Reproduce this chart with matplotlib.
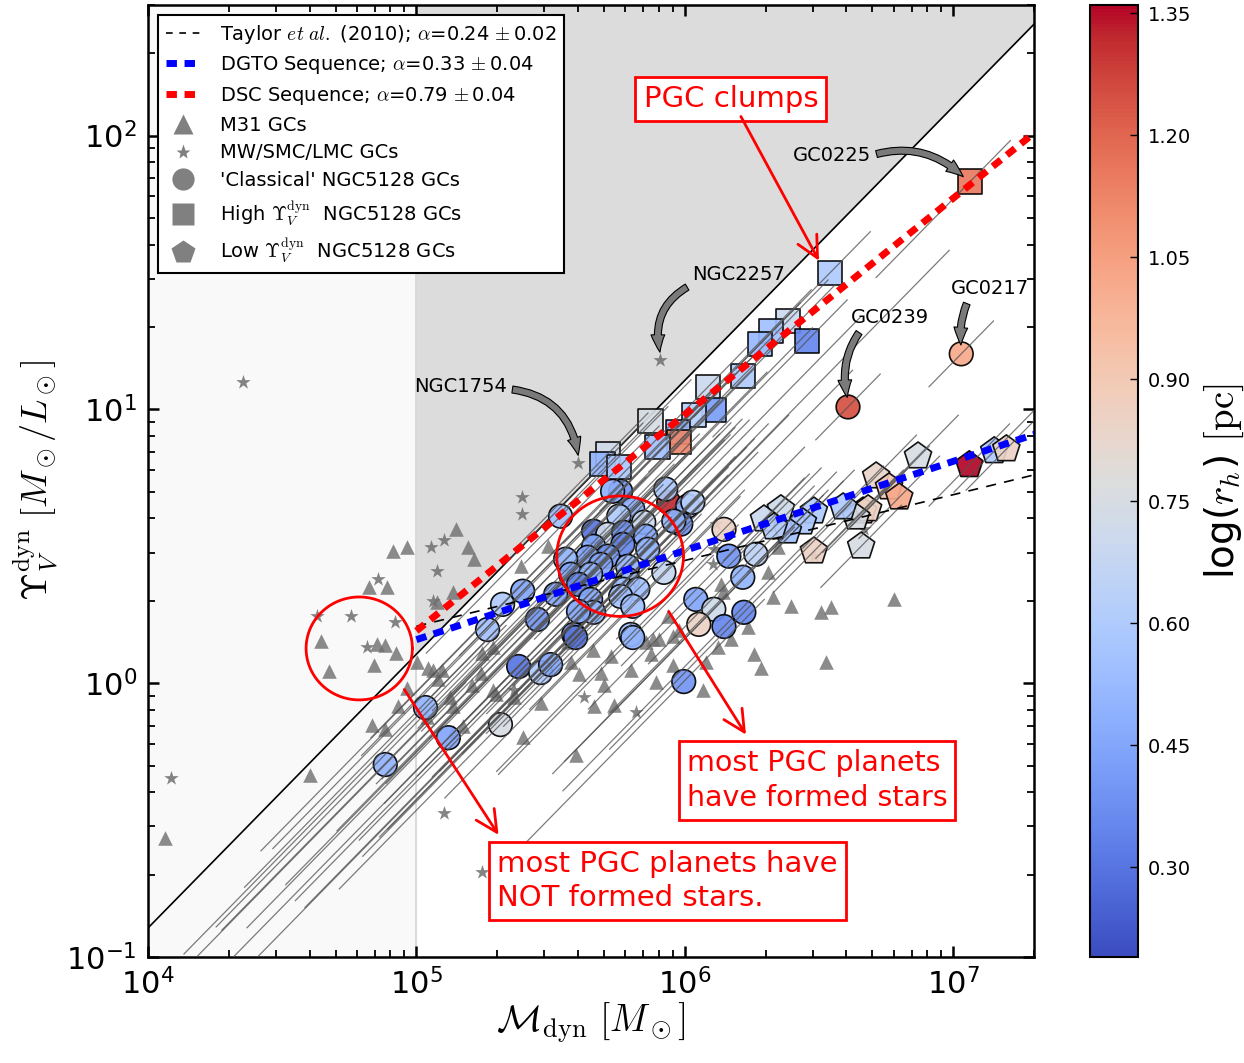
import numpy as np
import matplotlib
matplotlib.use("Agg")
import matplotlib.pyplot as plt
from matplotlib.lines import Line2D
import matplotlib.colors as mcolors
import matplotlib.cm as cm

plt.rcParams['font.family'] = 'DejaVu Sans'
plt.rcParams['mathtext.fontset'] = 'cm'
plt.rcParams['axes.unicode_minus'] = False

# ---------------- data (log10 values) ----------------
# 'Classical' NGC5128 GCs: log M_dyn, log Upsilon_V, log r_h
circ_logm = [7.030, 6.608, 5.940, 5.761, 5.731, 5.929, 6.011, 6.030, 5.985, 5.959,
             5.537, 5.806, 5.754, 5.660, 5.713, 5.772, 5.847, 5.854, 5.769, 5.660,
             5.713, 5.638, 5.862, 5.687, 5.787, 5.556, 5.575, 5.649, 5.922, 5.787,
             5.519, 5.604, 5.772, 5.825, 5.649, 5.660, 5.761, 5.806, 5.604, 5.586,
             5.799, 6.041, 6.108, 6.052, 5.396, 5.321, 5.265, 5.451, 5.593, 5.381,
             5.463, 5.500, 5.806, 5.034, 5.313, 5.119, 4.884, 6.164, 6.265, 6.216,
             6.220, 6.146, 5.996, 6.146]
circ_logy = [1.203, 1.009, 0.661, 0.701, 0.701, 0.709, 0.647, 0.661, 0.581, 0.592,
             0.610, 0.636, 0.610, 0.555, 0.544, 0.551, 0.588, 0.537, 0.507, 0.500,
             0.464, 0.460, 0.489, 0.434, 0.427, 0.453, 0.398, 0.398, 0.405, 0.379,
             0.325, 0.361, 0.343, 0.343, 0.306, 0.259, 0.317, 0.281, 0.262, 0.178,
             0.178, 0.306, 0.270, 0.215, 0.336, 0.288, 0.196, 0.233, 0.167, 0.061,
             0.039, 0.068, 0.167, -0.089, -0.151, -0.199, -0.297, 0.464, 0.471, 0.387,
             0.259, 0.207, 0.006, 0.562]
circ_logrh = [1.02, 1.25, 1.32, 0.40, 0.48, 0.58, 0.48, 0.62, 0.38, 0.50,
              0.55, 0.48, 0.60, 0.30, 0.72, 0.38, 0.70, 0.45, 0.35, 0.45,
              0.40, 0.45, 0.50, 0.45, 0.50, 0.50, 0.45, 0.50, 0.68, 0.55,
              0.45, 0.35, 0.55, 0.55, 0.45, 0.50, 0.55, 0.55, 0.45, 0.40,
              0.55, 0.45, 0.72, 0.85, 0.45, 0.60, 0.55, 0.40, 0.30, 0.30,
              0.60, 0.45, 0.50, 0.50, 0.75, 0.45, 0.50, 0.40, 0.65, 0.50,
              0.35, 0.35, 0.40, 0.85]
# extent of the mass tracks (dex below / above each GC)
circ_trk_lo = [0.12, 0.12, 0.5, 0.6, 0.9, 0.5, 0.7, 0.4, 1.4, 0.6, 0.5, 0.8, 1.5, 1.3, 0.6, 0.9,
               0.5, 0.7, 1.4, 0.6, 1.2, 0.5, 0.6, 0.8, 1.0, 0.5, 1.3, 0.6, 0.5, 0.7, 0.5, 0.9,
               0.6, 0.5, 1.1, 0.6, 0.5, 0.7, 0.6, 1.3, 0.5, 0.4, 0.6, 0.5, 0.6, 0.9, 0.8, 0.6,
               0.7, 0.5, 0.6, 0.7, 0.5, 0.9, 0.6, 0.9, 0.7, 0.4, 0.4, 0.5, 0.5, 0.6, 0.6, 0.4]
circ_trk_hi = [0.12, 0.12, 0.3, 0.5, 0.4, 0.2, 0.3, 0.2, 1.0, 0.3, 0.4, 0.5, 0.3, 0.9, 0.3, 0.4,
               0.3, 0.8, 0.4, 0.3, 0.5, 0.4, 0.3, 0.5, 0.4, 0.3, 0.9, 0.4, 0.3, 0.6, 0.4, 0.3,
               0.5, 0.8, 0.3, 0.5, 0.3, 0.4, 0.3, 0.5, 0.4, 0.3, 0.3, 0.3, 0.4, 0.3, 0.5, 0.4,
               0.3, 0.4, 0.3, 0.5, 0.3, 0.3, 0.4, 0.3, 0.3, 0.3, 0.3, 0.3, 0.4, 0.3, 0.3, 0.3]

# High Upsilon NGC5128 GCs
sq_logm = [7.063, 6.541, 6.384, 6.321, 6.280, 6.455, 6.216, 6.086, 6.108, 6.034,
           5.873, 5.974, 5.978, 5.899, 5.713, 5.694, 5.754]
sq_logy = [1.832, 1.499, 1.323, 1.287, 1.239, 1.250, 1.122, 1.082, 0.998, 0.980,
           0.958, 0.917, 0.881, 0.862, 0.837, 0.800, 0.789]
sq_logrh = [1.15, 0.60, 0.70, 0.55, 0.52, 0.35, 0.60, 0.70, 0.42, 0.62,
            0.75, 0.50, 1.12, 0.55, 0.72, 0.50, 0.58]

# Low Upsilon NGC5128 GCs
pent_logm = [6.869, 7.060, 7.153, 7.198, 6.713, 6.761, 6.799, 6.664, 6.683, 6.638,
             6.590, 6.657, 6.481, 6.440, 6.384, 6.358, 6.295, 6.332, 6.481]
pent_logy = [0.829, 0.797, 0.848, 0.855, 0.756, 0.716, 0.679, 0.628, 0.636, 0.606,
             0.643, 0.500, 0.628, 0.588, 0.555, 0.636, 0.599, 0.570, 0.482]
pent_logrh = [0.75, 1.36, 0.60, 0.85, 0.83, 0.90, 1.02, 1.00, 0.85, 0.75,
              0.60, 0.75, 0.60, 0.58, 0.55, 0.72, 0.70, 0.62, 0.85]

# M31 GCs
m31_logm = [4.914, 4.966, 4.825, 4.892, 4.646, 4.675, 4.854, 4.884, 4.925, 4.843,
            5.004, 4.966, 4.933, 5.045, 5.146, 5.194, 5.213, 5.138, 5.078, 4.836,
            4.884, 4.604, 5.060, 5.082, 5.041, 5.138, 5.138, 5.175, 5.239, 5.246,
            5.287, 5.388, 5.489, 5.563, 5.657, 5.687, 5.660, 5.735, 5.698, 5.593,
            5.396, 5.463, 5.362, 5.287, 5.881, 5.903, 5.873, 5.937, 5.955, 5.892,
            6.067, 5.955, 5.978, 6.134, 6.328, 6.396, 6.507, 6.545, 6.780, 6.257,
            6.284, 6.526, 6.235, 6.172, 6.123, 6.078, 5.854, 6.347, 6.310, 6.142,
            4.063, 5.097, 5.127, 5.209, 5.295, 5.575, 5.604, 5.724, 5.799]
m31_logy = [0.482, 0.497, 0.350, 0.350, 0.153, 0.043, 0.142, 0.138, 0.109, 0.068,
            0.079, -0.016, -0.085, 0.057, 0.562, 0.497, 0.453, 0.332, 0.295, -0.151,
            -0.169, -0.334, 0.050, 0.014, -0.122, -0.085, -0.177, -0.158, 0.039, 0.112,
            0.134, 0.427, 0.500, 0.149, 0.123, 0.039, -0.085, -0.078, -0.005, -0.261,
            -0.195, -0.071, -0.049, -0.023, 0.160, 0.160, 0.105, 0.244, 0.068, 0.006,
            -0.023, 0.171, 0.196, 0.361, 0.314, 0.281, 0.259, 0.277, 0.306, 0.105,
            0.057, 0.076, 0.207, 0.160, 0.134, 0.076, 0.149, 0.497, 0.405, 0.332,
            -0.565, 0.050, -0.049, -0.005, -0.041, 0.076, 0.032, 0.098, 0.050]

# MW / SMC / LMC GCs
mw_logm = [4.354, 4.086, 5.101, 5.243, 5.601, 5.907, 4.631, 4.757, 4.922, 4.817,
           4.858, 5.056, 5.101, 5.078, 5.060, 5.392, 5.392, 5.623, 5.817, 6.104,
           6.116, 6.108, 6.668, 6.481, 5.362]
mw_logy = [1.100, -0.345, -0.473, -0.689, 0.804, 1.181, 0.244, 0.244, 0.222, 0.134,
           0.379, 0.497, 0.522, 0.409, 0.299, 0.679, 0.617, -0.049, -0.104, 0.434,
           0.581, 0.489, 0.562, 0.464, -0.023]

# reference lines (log M, log Upsilon)
edge_logm = [4.0, 7.306]
edge_logy = [-0.894, 2.412]
taylor_logm = [5.0, 7.306]
taylor_logy = [0.208, 0.762]
dgto_logm = [5.0, 7.306]
dgto_logy = [0.159, 0.910]
dsc_logm = [5.0, 7.306]
dsc_logy = [0.191, 2.013]

cb_ticks = [0.30, 0.45, 0.60, 0.75, 0.90, 1.05, 1.20, 1.35]

# ---------------- figure ----------------
W, H = 1244, 1063
fig = plt.figure(figsize=(W / 100, H / 100), dpi=100)
ax = fig.add_axes([148 / W, 106 / H, 886 / W, 952 / H])
cax = fig.add_axes([1090 / W, 106 / H, 48 / W, 952 / H])

cmap = plt.get_cmap('coolwarm')
norm = mcolors.Normalize(vmin=0.19, vmax=1.36)

ax.set_xscale('log')
ax.set_yscale('log')
ax.set_xlim(1e4, 2e7)
ax.set_ylim(0.1, 300)

# background regions
ax.axvspan(1e4, 1e5, color='#f9f9f9', zorder=0)
ax.axvline(1e5, color='#d4d4d4', lw=1.2, zorder=0.5)
m_fill = np.array([1e5, 2e7])
y_fill = 10 ** np.interp(np.log10(m_fill), edge_logm, edge_logy)
ax.fill_between(m_fill, y_fill, 300, color='#dcdcdc', lw=0, zorder=0)
ax.plot(10 ** np.array(edge_logm), 10 ** np.array(edge_logy), color='k', lw=1.2, zorder=1)

# comparison samples
ax.scatter(10 ** np.array(m31_logm), 10 ** np.array(m31_logy), marker='^', s=110,
           color='#6e6e6e', alpha=0.8, lw=0, zorder=2)
ax.scatter(10 ** np.array(mw_logm), 10 ** np.array(mw_logy), marker='*', s=120,
           color='#6e6e6e', alpha=0.85, lw=0, zorder=2)

# NGC5128 GCs
kw = dict(cmap=cmap, norm=norm, edgecolors='k', linewidths=1.2, alpha=0.92, zorder=3)
ax.scatter(10 ** np.array(circ_logm), 10 ** np.array(circ_logy), c=circ_logrh, marker='o', s=290, **kw)
ax.scatter(10 ** np.array(sq_logm), 10 ** np.array(sq_logy), c=sq_logrh, marker='s', s=310, **kw)
ax.scatter(10 ** np.array(pent_logm), 10 ** np.array(pent_logy), c=pent_logrh, marker='p', s=420, **kw)

# mass tracks (constant luminosity -> slope 1)
def track(lm, ly, lo, hi):
    dm = np.array([-lo, hi])
    ax.plot(10 ** (lm + dm), 10 ** (ly + dm), color='#505050', lw=0.9, alpha=0.75, zorder=3.5)

for lm, ly, lo, hi in zip(circ_logm, circ_logy, circ_trk_lo, circ_trk_hi):
    track(lm, ly, lo, hi)
for lm, ly in zip(sq_logm, sq_logy):
    track(lm, ly, 0.35, 0.15)
for lm, ly in zip(pent_logm, pent_logy):
    track(lm, ly, 0.15, 0.15)

# fits
ax.plot(10 ** np.array(taylor_logm), 10 ** np.array(taylor_logy), color='k', lw=1.2,
        ls=(0, (6, 5)), zorder=4)
ax.plot(10 ** np.array(dgto_logm), 10 ** np.array(dgto_logy), color='#0000ff', lw=5,
        ls=(0, (1.5, 1.1)), zorder=4)
ax.plot(10 ** np.array(dsc_logm), 10 ** np.array(dsc_logy), color='#ff0000', lw=5,
        ls=(0, (1.5, 1.1)), zorder=4)

# red circles highlighting groups
t = np.linspace(0, 2 * np.pi, 300)
for cx, cy, rx, ry in [(5.759, 0.464, 0.236, 0.220), (4.787, 0.127, 0.198, 0.188)]:
    ax.plot(10 ** (cx + rx * np.cos(t)), 10 ** (cy + ry * np.sin(t)), color='red', lw=2, zorder=5)

# red text boxes + arrows
box = dict(boxstyle='square,pad=0.28', fc='white', ec='red', lw=2)
ax.text(10 ** 6.172, 10 ** 2.133, 'PGC clumps', color='red', fontsize=21,
        ha='center', va='center', bbox=box, zorder=6)
ax.text(10 ** 6.007, 10 ** -0.356, 'most PGC planets\nhave formed stars', color='red',
        fontsize=20.5, ha='left', va='center', linespacing=1.33, bbox=box, zorder=6)
ax.text(10 ** 5.302, 10 ** -0.722, 'most PGC planets have\nNOT formed stars.', color='red',
        fontsize=21, ha='left', va='center', linespacing=1.28, bbox=box, zorder=6)

red_arrows = [((6.209, 2.070), (6.500, 1.543)),
              ((5.940, 0.262), (6.228, -0.188)),
              ((4.955, -0.023), (5.306, -0.554))]
for (x0, y0), (x1, y1) in red_arrows:
    ax.annotate('', xy=(10 ** x1, 10 ** y1), xytext=(10 ** x0, 10 ** y0),
                arrowprops=dict(arrowstyle='->,head_length=0.7,head_width=0.35',
                                color='red', lw=2, mutation_scale=22, shrinkA=0, shrinkB=0),
                zorder=6)

# labelled objects
labels = [('GC0225', (6.694, 1.927), (7.045, 1.843), 'right', (1, 0.5), -0.3),
          ('NGC2257', (6.201, 1.492), (5.910, 1.199), 'center', (0.0, 0.0), 0.4),
          ('NGC1754', (5.164, 1.082), (5.604, 0.822), 'center', (1.0, 0.4), -0.4),
          ('GC0239', (6.765, 1.334), (6.608, 1.034), 'center', (0.15, 0.0), 0.25),
          ('GC0217', (7.138, 1.441), (7.030, 1.225), 'center', (0.23, 0.0), 0.15)]
for name, (tx, ty), (px, py), ha, rp, rad in labels:
    ax.annotate(name, xy=(10 ** px, 10 ** py), xytext=(10 ** tx, 10 ** ty),
                fontsize=14, ha=ha, va='center', zorder=6,
                arrowprops=dict(arrowstyle='simple,head_length=0.7,head_width=0.55,tail_width=0.28',
                                fc='#7a7a7a', ec='k', lw=0.8, mutation_scale=18,
                                connectionstyle='arc3,rad=%s' % rad, relpos=rp,
                                shrinkA=2, shrinkB=2))

# axes styling
for sp in ax.spines.values():
    sp.set_linewidth(1.8)
ax.tick_params(which='both', direction='in', top=True, right=True)
ax.tick_params(which='major', length=8, width=1.8, labelsize=22, pad=8)
ax.tick_params(which='minor', length=5, width=1.3)
ax.set_xlabel(r'$\mathcal{M}_{\rm dyn}\ [M_\odot]$', fontsize=27, labelpad=0)
ax.set_ylabel(r'$\Upsilon_V^{\rm dyn}\ [M_\odot/L_\odot]$', fontsize=26, labelpad=4)

# legend
dash = (0, (1.5, 1.1))
handles = [
    Line2D([], [], color='k', lw=1.2, ls=(0, (4, 4)),
           label=r'Taylor $et\ al.$ (2010); $\alpha$=0.24$\,\pm$0.02'),
    Line2D([], [], color='#0000ff', lw=5, ls=dash, label=r'DGTO Sequence; $\alpha$=0.33$\,\pm$0.04'),
    Line2D([], [], color='#ff0000', lw=5, ls=dash, label=r'DSC Sequence; $\alpha$=0.79$\,\pm$0.04'),
    Line2D([], [], ls='none', marker='^', ms=14, color='#808080', mec='none', label='M31 GCs'),
    Line2D([], [], ls='none', marker='*', ms=11, color='#808080', mec='none', label='MW/SMC/LMC GCs'),
    Line2D([], [], ls='none', marker='o', ms=16, color='#808080', mec='none', label="'Classical' NGC5128 GCs"),
    Line2D([], [], ls='none', marker='s', ms=16, color='#808080', mec='none',
           label=r'High $\Upsilon_V^{\rm dyn}$  NGC5128 GCs'),
    Line2D([], [], ls='none', marker='p', ms=18, color='#808080', mec='none',
           label=r'Low $\Upsilon_V^{\rm dyn}$  NGC5128 GCs'),
]
leg = ax.legend(handles=handles, loc='upper left', fontsize=14, frameon=True, fancybox=False,
                framealpha=1, edgecolor='k', borderaxespad=0.5, handlelength=1.8,
                handletextpad=1.0, labelspacing=0.45, borderpad=0.4)
leg.get_frame().set_linewidth(1.5)
leg.set_zorder(7)

# colorbar
sm = cm.ScalarMappable(norm=norm, cmap=cmap)
cb = fig.colorbar(sm, cax=cax, ticks=cb_ticks, format='%.2f')
cb.outline.set_linewidth(1.5)
cb.ax.tick_params(direction='in', length=6, width=1, labelsize=14, pad=7)
cb.set_label(r'log($r_h$) $[\rm pc]$', fontsize=28, labelpad=8)

fig.savefig('out.png', dpi=100)
